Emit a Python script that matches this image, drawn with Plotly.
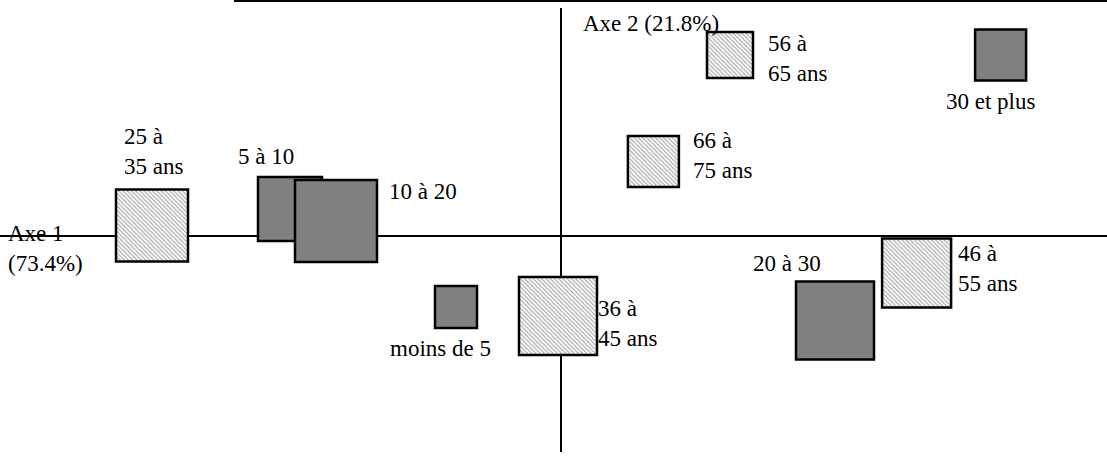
import plotly.graph_objects as go

# Correspondence analysis coordinates (axis 1 / axis 2) and marker sizes (same units)
age_labels = ["25 à<br>35 ans", "36 à<br>45 ans", "46 à<br>55 ans", "56 à<br>65 ans", "66 à<br>75 ans"]
age_x = [-1.0225, -0.0075, 0.889, 0.4225, 0.231]
age_y = [0.026, -0.200, -0.0925, 0.4525, 0.186]
age_size = [0.180, 0.195, 0.1725, 0.115, 0.1275]

sen_labels = ["moins de 5", "5 à 10", "10 à 20", "20 à 30", "30 et plus"]
sen_x = [-0.2625, -0.6775, -0.5625, 0.685, 1.099]
sen_y = [-0.1775, 0.0675, 0.0375, -0.211, 0.4525]
sen_size = [0.105, 0.160, 0.205, 0.195, 0.1275]

axis1_label = "Axe 1<br>(73.4%)"
axis2_label = "Axe 2 (21.8%)"

# label anchor (top-left) positions in axis units
age_label_pos = [(-1.095, 0.2825), (0.09, -0.1475), (0.99, -0.01), (0.515, 0.515), (0.3275, 0.2725)]
sen_label_pos = [(-0.43, -0.2475), (-0.81, 0.2325), (-0.4325, 0.145), (0.4775, -0.035), (0.96, 0.37)]
axis1_pos = (-1.385, 0.04)
axis2_pos = (0.0525, 0.565)

XR = [-561 / 400, 546 / 400]
YR = [-220 / 400, 236 / 400]
FONT = dict(family="Liberation Serif", size=23, color="black")

fig = go.Figure()

fig.add_trace(go.Bar(
    x=age_x,
    y=age_size,
    base=[cy - s / 2 for cy, s in zip(age_y, age_size)],
    width=age_size,
    marker=dict(
        color="white",
        line=dict(color="black", width=2.5),
        pattern=dict(shape="\\", fgcolor="#555555", bgcolor="white", size=3, solidity=0.4),
    ),
    hoverinfo="skip",
    showlegend=False,
))

fig.add_trace(go.Bar(
    x=sen_x,
    y=sen_size,
    base=[cy - s / 2 for cy, s in zip(sen_y, sen_size)],
    width=sen_size,
    marker=dict(color="#808080", line=dict(color="black", width=2.5)),
    hoverinfo="skip",
    showlegend=False,
))

annotations = []
for txt, (ax, ay) in zip(age_labels + sen_labels + [axis1_label, axis2_label],
                         age_label_pos + sen_label_pos + [axis1_pos, axis2_pos]):
    annotations.append(dict(
        x=ax, y=ay, xref="x", yref="y", text=txt, showarrow=False,
        xanchor="left", yanchor="top", align="left", font=FONT, borderpad=0,
    ))

shapes = [
    # axis 1 (horizontal)
    dict(type="line", xref="paper", yref="y", x0=0, x1=1, y0=0, y1=0,
         line=dict(color="black", width=2), layer="below"),
    # axis 2 (vertical)
    dict(type="line", xref="x", yref="paper", x0=0, x1=0, y0=4 / 456, y1=1 - 8 / 456,
         line=dict(color="black", width=2), layer="below"),
    # top frame line
    dict(type="line", xref="paper", yref="paper", x0=234 / 1107, x1=1, y0=1 - 1 / 456, y1=1 - 1 / 456,
         line=dict(color="black", width=2), layer="below"),
]

fig.update_layout(
    width=1107, height=456,
    margin=dict(l=0, r=0, t=0, b=0),
    paper_bgcolor="white", plot_bgcolor="white",
    barmode="overlay",
    xaxis=dict(range=XR, visible=False, fixedrange=True),
    yaxis=dict(range=YR, visible=False, fixedrange=True),
    annotations=annotations,
    shapes=shapes,
    showlegend=False,
)

fig.write_html("out.html", config={"displayModeBar": False},
               post_script="document.body.style.margin='0';document.body.style.padding='0';")
